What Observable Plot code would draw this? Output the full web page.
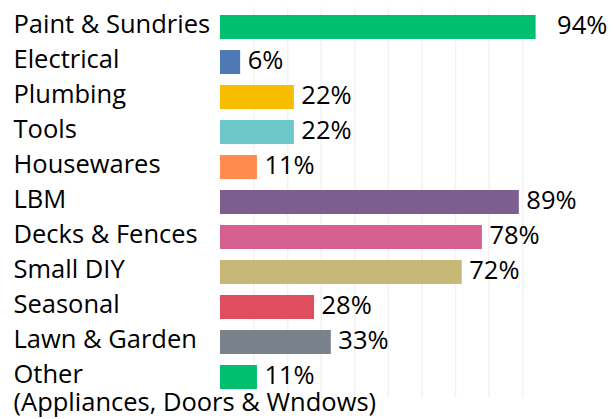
<!DOCTYPE html>
<html>
<head>
<meta charset="utf-8">
<script src="https://cdn.jsdelivr.net/npm/d3@7"></script>
<script src="https://cdn.jsdelivr.net/npm/@observablehq/plot@0.6"></script>
<style>
  html, body { margin: 0; padding: 0; background: #fff; }
  #chart { width: 613px; height: 419px; }
</style>
</head>
<body>
<div id="chart"></div>
<script>
const categories = ["Paint & Sundries", "Electrical", "Plumbing", "Tools", "Housewares", "LBM",
  "Decks & Fences", "Small DIY", "Seasonal", "Lawn & Garden", "Other"];
const values = [94, 6, 22, 22, 11, 89, 78, 72, 28, 33, 11];
const colors = ["#00BF6F", "#4E79B5", "#F7BE00", "#6CC8CA", "#FF8C4E", "#7D5E8F",
  "#D6608F", "#C8B878", "#DF4E5E", "#79818A", "#00BF6F"];
const otherSubLabel = "(Appliances, Doors & Wndows)";
const gridTicks = [10, 20, 30, 40, 50, 60, 70, 80, 90];

const data = categories.map((c, i) => ({category: c, value: values[i], color: colors[i]}));
const FONT = "'Open Sans', sans-serif";
const FS = 25.5;

const chart = Plot.plot({
  width: 613,
  height: 419,
  marginLeft: 220,
  marginRight: 69,
  marginTop: 7,
  marginBottom: 21,
  style: {fontFamily: FONT, fontSize: FS + "px", color: "#000", background: "#fff", overflow: "visible"},
  x: {domain: [0, 96.5], axis: null},
  y: {domain: categories, paddingInner: 0.31, paddingOuter: 0.17, axis: null},
  marks: [
    Plot.ruleX(gridTicks, {stroke: "#f2f2f2", strokeWidth: 1.5}),
    Plot.ruleY([0], {x1: 0, x2: 96.5, frameAnchor: "bottom", stroke: "#dcdcdc", strokeWidth: 1.5}),
    Plot.barX(data, {y: "category", x: "value", fill: "color"}),
    Plot.text(data.filter(d => d.category !== "Paint & Sundries"),
      {y: "category", x: "value", text: d => d.value + "%", textAnchor: "start", dx: 7, dy: -2, fill: "#000", fontSize: FS}),
    Plot.text(data.filter(d => d.category === "Paint & Sundries"),
      {y: "category", x: "value", text: d => d.value + "%", textAnchor: "start", dx: 21, dy: -2, fill: "#000", fontSize: FS}),
    Plot.text(data, {y: "category", text: "category", frameAnchor: "left", textAnchor: "start", dx: -207, dy: -3, fill: "#000", fontSize: FS}),
    Plot.text(data.filter(d => d.category === "Other"),
      {y: "category", text: () => otherSubLabel, frameAnchor: "left", textAnchor: "start", dx: -207, dy: 25.5, fill: "#000", fontSize: FS})
  ]
});
document.getElementById("chart").appendChild(chart);
</script>
</body>
</html>
